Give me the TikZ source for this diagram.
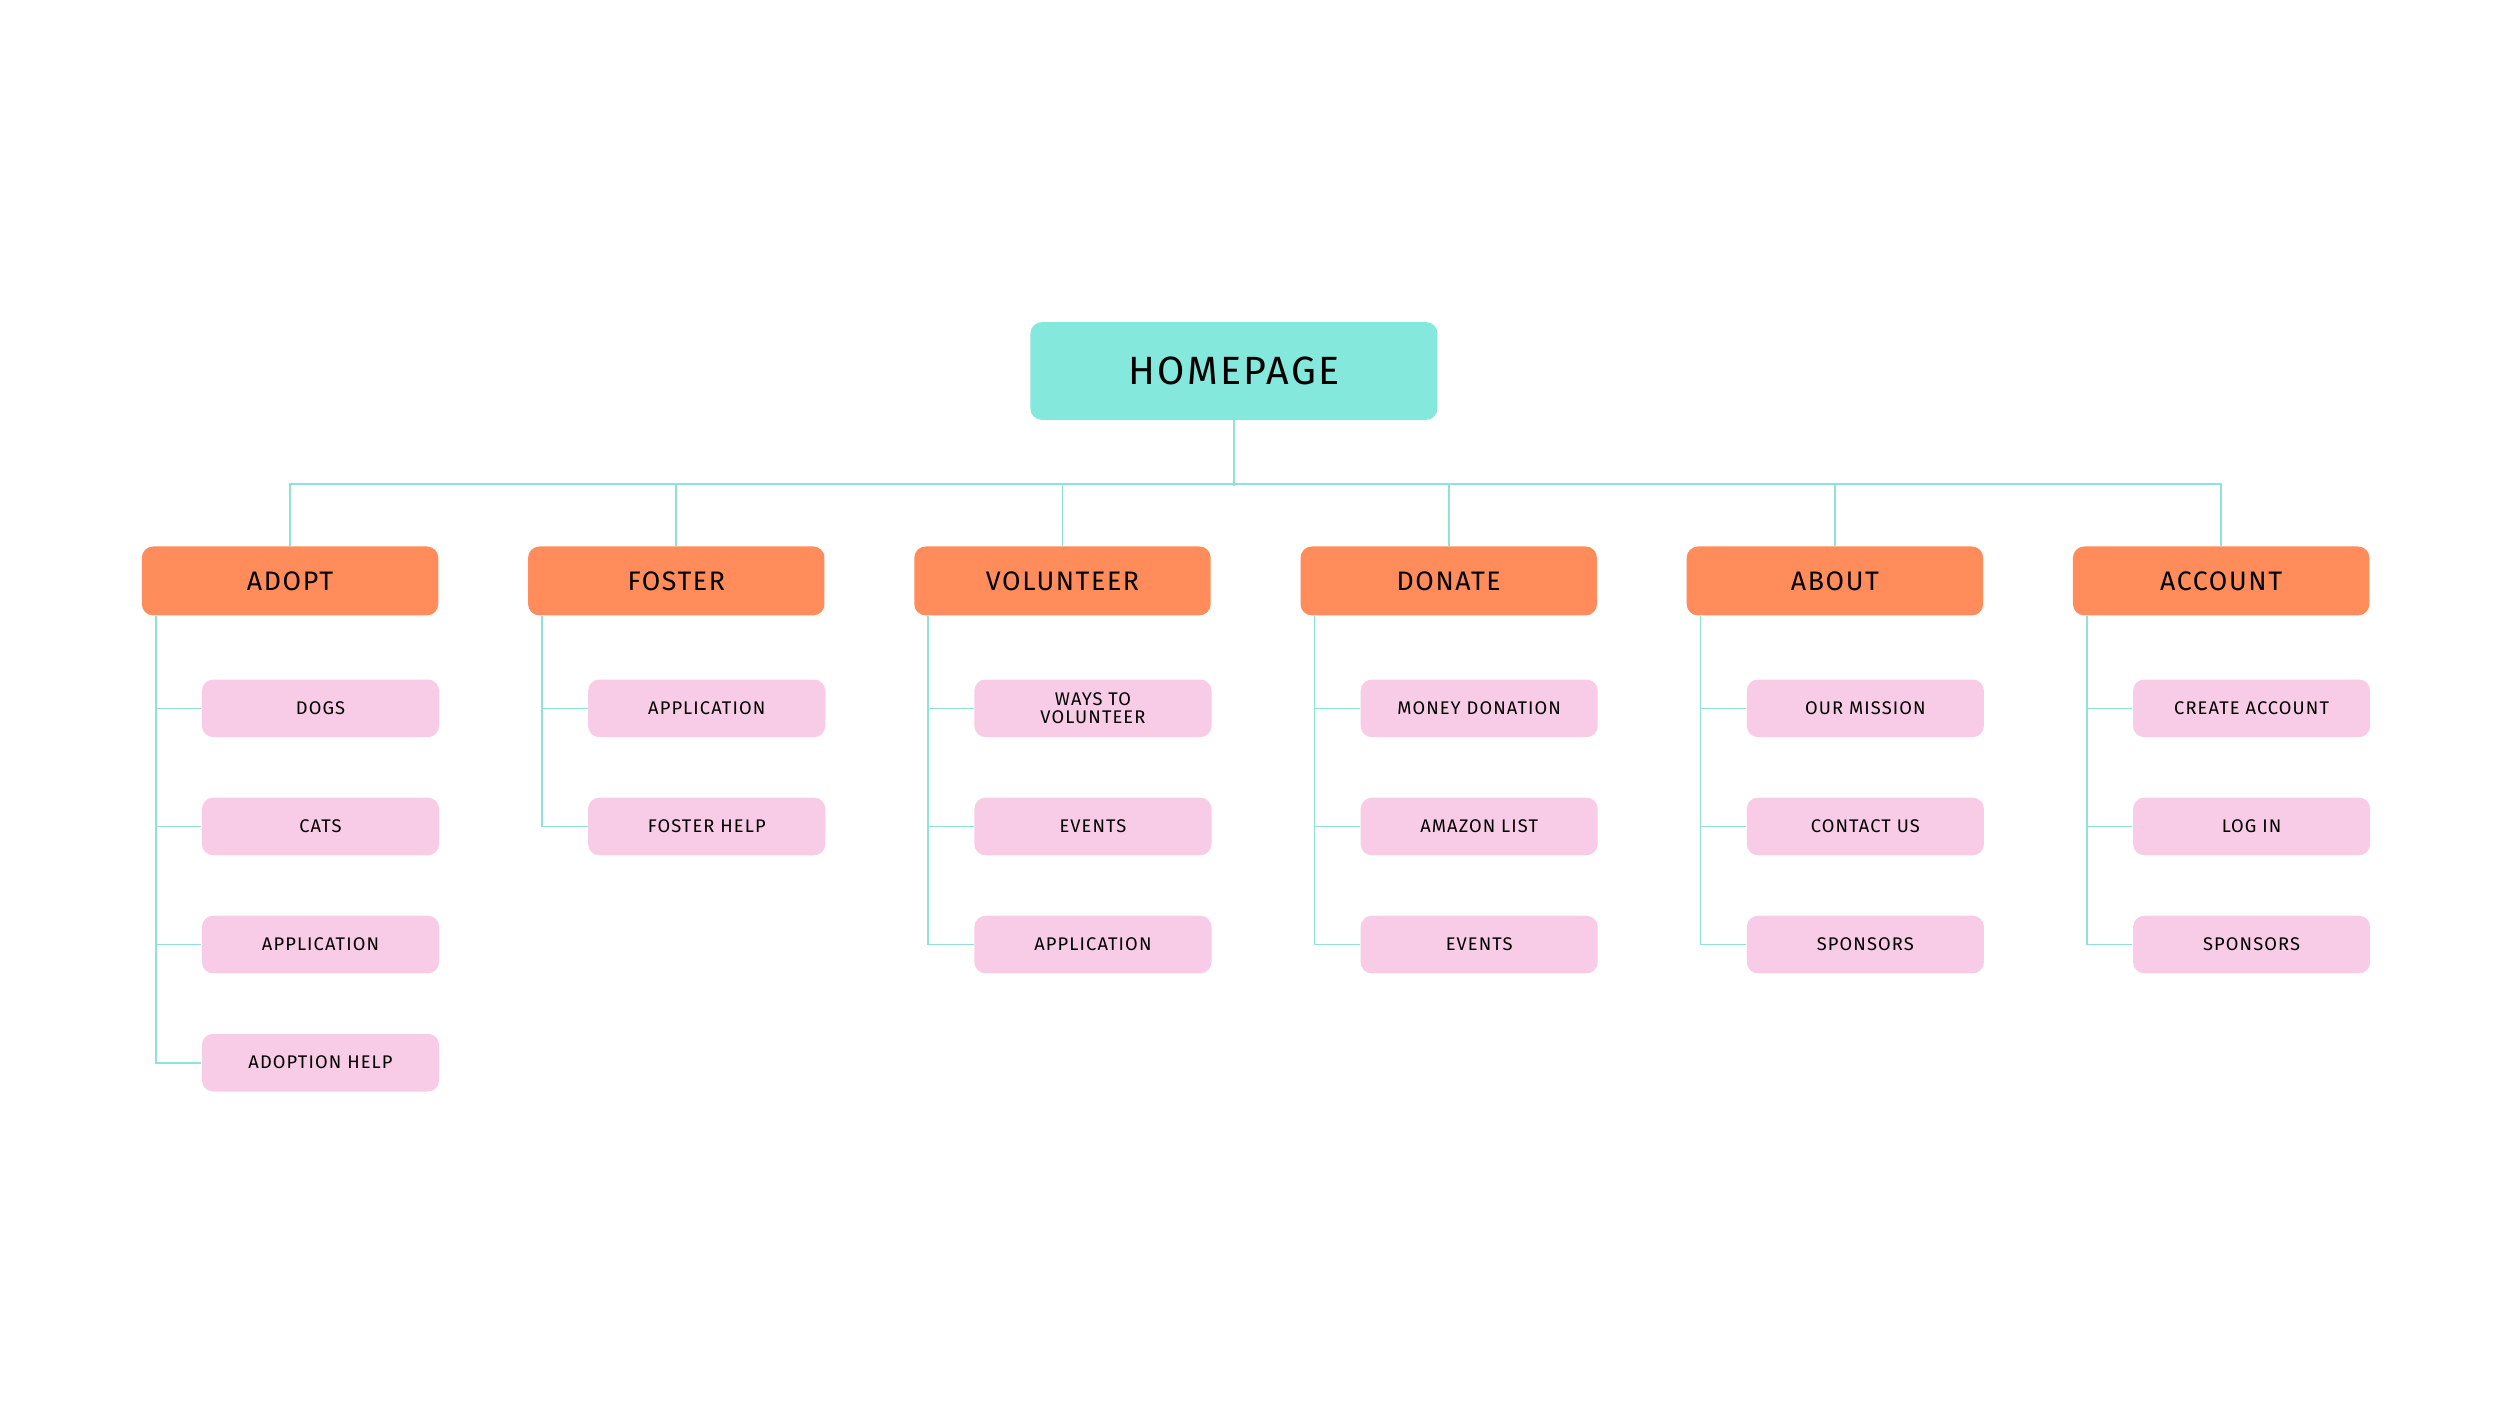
\documentclass[tikz,border=0pt]{standalone}
\usepackage{fontspec}
\setmainfont[LetterSpace=6]{Fira Sans}
\usetikzlibrary{calc,positioning}
\definecolor{homeC}{HTML}{84E8DC}
\definecolor{catC}{HTML}{FF8C5A}
\definecolor{subC}{HTML}{F8CCE6}
\definecolor{lineC}{HTML}{8EE2D8}
\tikzset{
	home/.style={fill=homeC,rounded corners=4pt,minimum width=5.08cm,minimum height=1.22cm,font=\fontsize{14}{16}\selectfont},
	cat/.style={fill=catC,rounded corners=4pt,minimum width=3.7cm,minimum height=0.86cm,font=\fontsize{9.5}{11}\selectfont},
	sub/.style={fill=subC,rounded corners=4pt,minimum width=2.96cm,minimum height=0.72cm,align=center,font=\fontsize{6.5}{6.5}\selectfont},
	link/.style={draw=lineC,line width=0.6pt}
}
\begin{document}
\begin{tikzpicture}[x=0.02cm,y=-0.02cm]
	\useasboundingbox (0,0) rectangle (1560,877);
	\node [home] (home) at (770,231.5) {HOMEPAGE};
	\coordinate (bus) at (770,303);
	\draw [link] (home) -- (bus);
	\foreach \c/\l [count=\i] in {adopt/ADOPT,foster/FOSTER,volunteer/VOLUNTEER,donate/DONATE,about/ABOUT,account/ACCOUNT} {
		\node [cat] (\c) at ({181+241*(\i-1)},362.5) {\l};
		\draw [link] (\c.north) -- ++(0,-38.5) -| (bus);
	}
	\draw [link] (adopt.north) ++(0,-38.5) -- ($(account.north)+(0,-38.5)$);
	\foreach \c/\list in {adopt/{DOGS,CATS,APPLICATION,ADOPTION HELP},
		foster/{APPLICATION,FOSTER HELP},
		volunteer/{WAYS TO\\VOLUNTEER,EVENTS,APPLICATION},
		donate/{MONEY DONATION,AMAZON LIST,EVENTS},
		about/{OUR MISSION,CONTACT US,SPONSORS},
		account/{CREATE ACCOUNT,LOG IN,SPONSORS}}
		\foreach \s [count=\j] in \list {
			\node [sub] (\c-\j) at ($(\c)+(19,{79.5+73.7*(\j-1)})$) {\s};
			\draw [link] ($(\c.south west)+(9,0)$) |- (\c-\j.west);
		}
\end{tikzpicture}
\end{document}
